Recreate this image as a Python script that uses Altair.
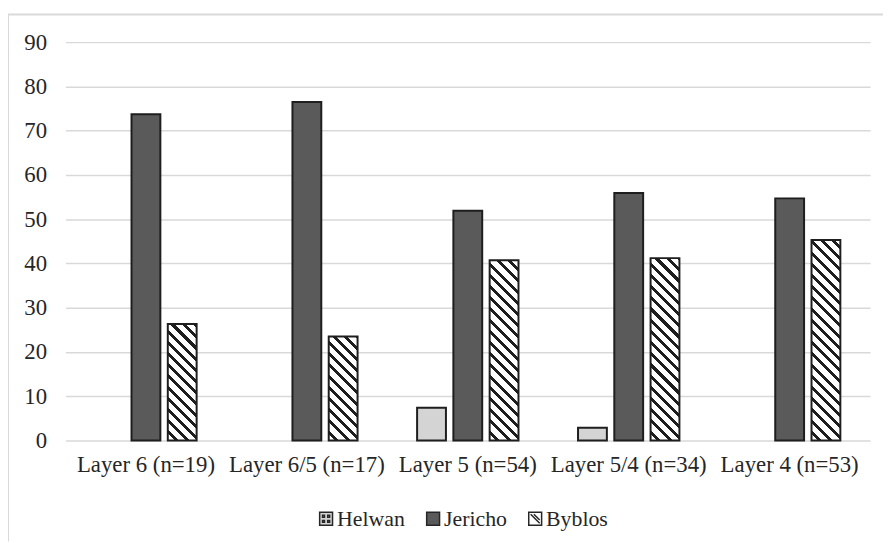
import altair as alt
import pandas as pd

# ---- data ----
layers = ["Layer 6 (n=19)", "Layer 6/5 (n=17)", "Layer 5 (n=54)", "Layer 5/4 (n=34)", "Layer 4 (n=53)"]
series = ["Helwan", "Jericho", "Byblos"]
helwan = [None, None, 7.4, 2.9, None]
jericho = [73.7, 76.5, 51.9, 55.9, 54.7]
byblos = [26.3, 23.5, 40.7, 41.2, 45.3]
y_ticks = [0, 10, 20, 30, 40, 50, 60, 70, 80, 90]

rows = []
for i, lay in enumerate(layers):
    for s, vals in zip(series, [helwan, jericho, byblos]):
        v = vals[i]
        if v is not None:
            rows.append({"Layer": lay, "Series": s, "Value": v})
df = pd.DataFrame(rows)

# ---- layout ----
W, H, YMAX = 812, 402, 90
X_PI, X_PO, OFF_PI = 0.37, 0.185, 0.205
step = W / len(layers)
band = step * (1 - X_PI)
off_step = band / (len(series) - OFF_PI)
bar_w = off_step * (1 - OFF_PI)

FONT = "Liberation Serif"
TXT = "#262626"
EDGE = "#1e1e1e"


def hatch(v, spacing=11.3, frac=0.36):
    h = v / YMAX * H
    r = h / bar_w
    denom = bar_w * (1 + r * r)
    dt = spacing / denom
    tmax = (bar_w + h) / denom
    stops = []
    t = -0.4 * dt
    while t < tmax + dt:
        a, b, c = t, t + frac * dt, t + dt
        for o, col in [(a, EDGE), (b, EDGE), (b, "#ffffff"), (c, "#ffffff")]:
            o = min(max(o, 0.0), 1.0)
            stops.append({"offset": round(o, 5), "color": col})
        t += dt
    return {"gradient": "linear", "x1": 0, "y1": 1, "x2": 1, "y2": 1 - r, "stops": stops}


x_enc = alt.X("Layer:N", sort=layers, title=None,
              scale=alt.Scale(domain=layers, paddingInner=X_PI, paddingOuter=X_PO),
              axis=alt.Axis(labelAngle=0, ticks=False, domain=False, labelPadding=13,
                            labelFont=FONT, labelFontSize=23, labelColor=TXT))
xo_enc = alt.XOffset("Series:N", sort=series,
                     scale=alt.Scale(domain=series, paddingInner=OFF_PI, paddingOuter=0))
y_axis = alt.Axis(values=y_ticks, grid=True, gridColor="#d9d9d9", gridWidth=1.5,
                  domain=False, ticks=False, labelPadding=19, labelFont=FONT,
                  labelFontSize=23, labelColor=TXT)
y_scale = alt.Scale(domain=[0, YMAX], nice=False)
y_enc = alt.Y("Value:Q", title=None, scale=y_scale, axis=y_axis)

base = alt.Chart(df)

shape_paths = [
    "M-1,-1H1V1H-1Z M-0.55,-0.55h0.3v0.3h-0.3Z M0.25,-0.55h0.3v0.3h-0.3Z M-0.55,0.25h0.3v0.3h-0.3Z M0.25,0.25h0.3v0.3h-0.3Z",
    "M-1,-1H1V1H-1Z",
    "M-1,-1H1V1H-1Z M-0.7,-0.7L0.7,0.7 M-0.2,-0.7L0.7,0.2",
]
leg = alt.Legend(title=None, orient="none", direction="horizontal", legendX=252, legendY=470,
                 labelFont=FONT, labelFontSize=22, labelColor=TXT, symbolSize=169,
                 symbolStrokeColor=TXT, symbolStrokeWidth=1.5, columnPadding=17,
                 labelOffset=0, padding=0)

legend_layer = base.transform_calculate(half="datum.Value / 2").mark_point(
    filled=True, size=4, opacity=1
).encode(
    x=x_enc, xOffset=xo_enc,
    y=alt.Y("half:Q", title=None, scale=y_scale, axis=y_axis),
    color=alt.Color("Series:N", sort=series,
                    scale=alt.Scale(domain=series, range=["#d4d4d4", "#5a5a5a", "#ffffff"]),
                    legend=leg),
    shape=alt.Shape("Series:N", sort=series,
                    scale=alt.Scale(domain=series, range=shape_paths), legend=leg),
)

helwan_bars = base.transform_filter(alt.datum.Series == "Helwan").mark_bar(
    fill="#d4d4d4", stroke=EDGE, strokeWidth=2
).encode(x=x_enc, xOffset=xo_enc, y=y_enc)

jericho_bars = base.transform_filter(alt.datum.Series == "Jericho").mark_bar(
    fill="#5a5a5a", stroke=EDGE, strokeWidth=2
).encode(x=x_enc, xOffset=xo_enc, y=y_enc)

byblos_layers = []
for lay, v in zip(layers, byblos):
    byblos_layers.append(
        base.transform_filter((alt.datum.Series == "Byblos") & (alt.datum.Layer == lay)).mark_bar(
            fill=hatch(v), stroke=EDGE, strokeWidth=2
        ).encode(x=x_enc, xOffset=xo_enc, y=y_enc)
    )

frame_df = pd.DataFrame({"k": [0]})
top_line = alt.Chart(frame_df).mark_rule(color="#d9d9d9", strokeWidth=2).encode(
    x=alt.value(-58), x2=alt.value(W + 14), y=alt.value(-28))
left_line = alt.Chart(frame_df).mark_rule(color="#d9d9d9", strokeWidth=2).encode(
    x=alt.value(-58), y=alt.value(-28), y2=alt.value(H + 102))

chart = alt.layer(
    top_line, left_line, legend_layer, helwan_bars, jericho_bars, *byblos_layers
).properties(
    width=W, height=H,
    padding={"left": 58, "top": 32, "right": 13, "bottom": 101},
    autosize=alt.AutoSizeParams(type="none"),
    background="white",
).configure_view(stroke=None)

chart.save("out.html", embed_options={"renderer": "svg", "actions": False})
